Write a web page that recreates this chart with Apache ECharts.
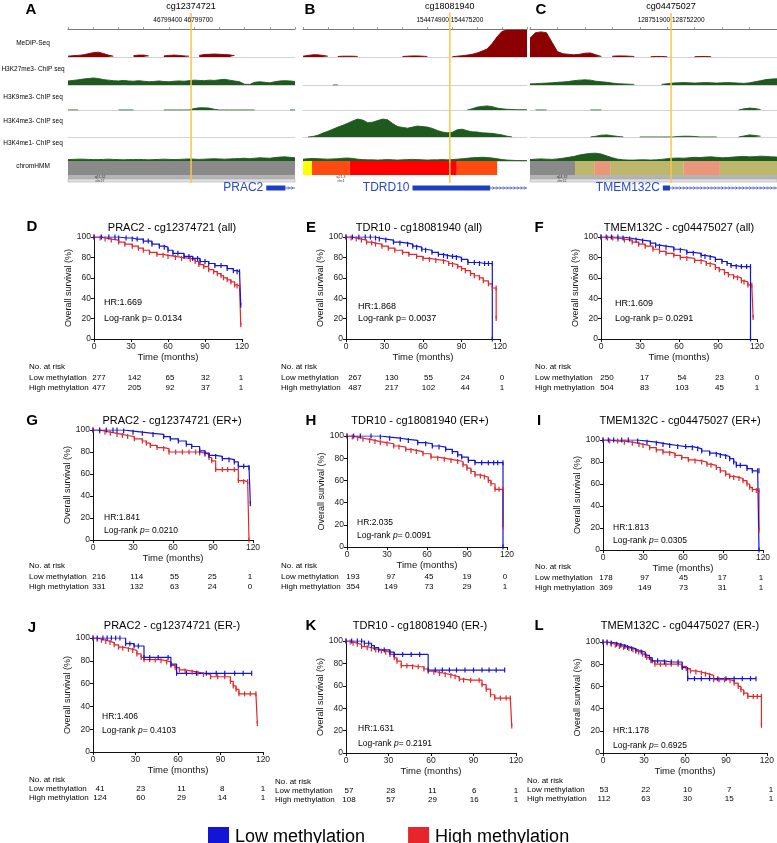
<!DOCTYPE html>
<html><head><meta charset="utf-8">
<script src="https://cdn.jsdelivr.net/npm/echarts@6/dist/echarts.min.js"></script>
<style>html,body{margin:0;padding:0;background:#fff}#c{width:777px;height:843px}</style>
</head><body><div id="c"></div>
<script>
// ================= DATA =================
const trackLabels = ['MeDIP-Seq','H3K27me3- ChIP seq','H3K9me3- ChIP seq','H3K4me3- ChIP seq','H3K4me1- ChIP seq','chromHMM'];
const panelLettersTop = ['A','B','C'];
const probeIds = ['cg12374721','cg18081940','cg04475027'];
const probeCoords = [['46799400','46799700'],['154474900','154475200'],['128751900','128752200']];
const probeBin = [24.4, 29.5, 25.7];
const cytoBands = [['q21.32','chr17'],['q21.3','chr1'],['q24.32','chr12']];

// signal tracks, 46 bins per panel (null = no coverage)
const medipA = [0.3,0.5,0.6,0.8,1.2,1.6,1.8,1.3,0.7,0.3,null,null,null,0.5,0.7,0.7,0.4,null,null,0.4,0.6,0.7,0.6,0.4,0.3,null,0.6,0.9,1.0,1.1,1.0,0.9,0.8,0.5,null,null,null,null,null,null,null,null,null,null,null,null];
const k27A = [1.5,1.7,1.9,2.2,2.4,2.6,2.4,2.0,1.8,1.6,1.5,1.7,1.5,1.4,1.6,1.4,1.2,1.3,1.5,1.3,1.2,1.4,1.5,1.4,1.6,1.8,1.7,1.6,1.8,1.7,1.9,2.1,1.8,1.5,1.2,0.3,0.2,1.0,1.2,1.0,0.8,1.2,1.5,1.6,1.5,1.3];
const k9A = [0,0,0,null,null,null,null,null,null,null,0,0,0,0,null,null,null,null,null,0,0,0,0,0,0,0.6,0.9,0.9,0.8,0.3,0,0,0,0,0,0,0,0,null,null,null,null,null,null,0,0];
const k4me3A = [];
const k4me1A = [0.6,0.7,0.8,0.8,0.7,0.6,0.6,0.7,0.8,0.7,0.6,0.5,0.6,0.6,0.7,0.6,0.5,0.6,0.7,0.8,0.7,0.6,0.7,0.8,0.9,0.8,0.7,0.8,0.9,1.0,0.9,0.8,0.9,1.0,1.1,1.2,1.0,1.2,1.4,1.3,1.2,1.5,1.7,1.8,1.6,1.4];

const medipB = [0.3,0.6,0.8,0.8,0.6,0.3,null,0.2,0.3,0.3,0.3,0.2,null,null,null,null,null,null,null,null,0.2,0.3,0.4,0.4,0.3,0.2,null,null,null,null,0.1,0.3,0.5,0.7,1.0,1.5,2.2,3.0,5.0,7.5,9.5,10,10,10,10,10];
const k27B = [null,null,null,null,null,null,0,0];
const k9B = [null,null,null,null,null,null,null,null,null,null,null,null,null,null,null,null,null,null,null,null,null,null,null,null,null,null,null,null,null,null,null,null,null,0,0.5,1.2,1.5,1.7,1.4,0.8,0.5,0.3,0.2,0.1,0.1,0.1];
const k4me3B = [null,0,0.2,0.7,1.5,2.2,3.0,3.8,4.5,5.3,6.2,6.9,6.5,5.5,5.7,6.3,6.9,6.6,5.2,4.0,3.7,3.4,3.8,4.2,4.0,3.8,3.3,2.5,1.9,1.6,1.8,2.8,3.0,2.4,2.0,1.9,1.6,1.5,1.4,1.1,0.8,0.3,0,null,null,null];
const k4me1B = [0.8,1.0,1.1,1.0,0.9,0.8,0.9,1.0,1.2,1.3,1.1,0.8,0.6,0.5,0.5,0.4,0.5,0.6,0.5,0.4,0.5,0.6,0.7,0.6,0.5,0.4,0.5,0.5,0.6,0.5,0.6,0.8,1.0,1.2,1.4,1.5,1.6,1.5,1.3,1.0,0.6,0.4,0.3,0.2,0.2,0.2];

const medipC = [7.0,9.0,9.3,9.0,5.5,2.0,1.2,1.0,0.8,1.0,1.4,1.5,0.8,0.2,null,0.3,0.4,0.4,0.3,0.2,null,null,0.1,0.2,0.2,0.1,null,null,null,null,0.1,0.2,0.2,0.1,null,null,null,null,null,null,null,null,null,null,null,null];
const k27C = [0.4,0.5,0.6,0.7,0.8,1.0,1.1,1.3,1.6,1.8,1.9,1.8,1.4,1.2,1.0,0.7,0.5,0.4,0.3,0.2,null,null,null,null,0.2,0.5,0.7,0.8,0.9,0.8,0.7,0.8,0.9,0.8,0.7,0.8,0.9,0.8,0.7,0.6,0.8,1.2,1.6,2.0,2.2,2.3];
const k9C = [null,0,0,0,null,null,null,null,null,null,null,0,0,0,null,null,null,null,null,null,null,null,null,null,null,null,null,null,null,null,null,null,null,null,null,null,null,null,0,0.5,0.8,0.6,0.2,null,null,null];
const k4me3C = [null,null,null,null,null,null,null,null,null,null,null,0,0.3,0.7,0.8,0.5,0.2,0,null,null,0,0,0,0,0,0,0,0.2,0.3,0.3,0.2,0,0,0,0,null,null,null,0,0.4,0.8,0.6,0.3,null,null,null];
const k4me1C = [0.6,0.8,0.9,0.8,0.7,0.9,1.2,1.6,2.0,2.6,3.0,3.3,3.4,3.0,2.2,1.4,0.8,0.5,0.4,0.4,0.5,0.5,0.4,0.5,0.7,1.0,1.2,1.3,1.2,1.4,1.6,1.5,1.7,1.8,1.6,1.4,1.5,1.7,1.9,2.0,1.8,1.9,2.1,2.0,1.8,1.7];

// chromHMM segments [startBin, endBin, state]
const chromA = [[0,45,'ReprPC']];
const chromB = [[0,1.8,'Enh'],[1.8,9.4,'TssAFlnk'],[9.4,30.9,'TssA'],[30.9,39,'TssAFlnk']];
const chromC = [[0,8.2,'ReprPC'],[8.2,11.7,'EnhBiv'],[11.7,14.6,'BivFlnk'],[14.6,28,'EnhBiv'],[28,34.6,'BivFlnk'],[34.6,45,'EnhBiv']];
// genes [name, txStart, cdsEnd, txEnd] in bins
const geneA = ['PRAC2',39.3,43.1,45];
const geneB = ['TDRD10',22,37.6,45];
const geneC = ['TMEM132C',24.2,25.5,45];

// Kaplan-Meier curves [months, survival %]
const D_low = [[0,100],[6,100],[12,100],[17,100],[20,99],[26,99],[31,98],[35,98],[40,96],[44,96],[47,93],[53,91],[57,90],[60,87],[64,84],[68,84],[73,81],[77,81],[80,79],[84,79],[86,76],[90,76],[93,74],[98,72],[103,72],[108,69],[113,67],[116,66],[118,66],[119,33]];
const D_high = [[0,100],[5,99],[9,98],[14,97],[20,95],[25,93],[31,91],[36,89],[40,87],[45,85],[51,83],[56,82],[60,81],[66,80],[71,79],[78,78],[82,76],[85,73],[89,71],[93,68],[97,66],[100,64],[103,62],[105,60],[108,58],[111,56],[114,53],[116,52],[118,52],[119,14]];
const E_low = [[0,100],[5,100],[10,100],[15,100],[19,100],[23,99],[26,98],[31,97],[37,95],[42,94],[48,93],[52,91],[55,90],[59,88],[62,87],[67,85],[72,83],[76,82],[79,81],[83,81],[86,80],[90,78],[95,75],[100,75],[104,74],[108,74],[111,74],[114,74],[114,0]];
const E_high = [[0,100],[4,99],[8,98],[12,97],[16,95],[20,94],[23,93],[28,91],[33,89],[38,87],[44,85],[49,83],[55,81],[60,79],[65,78],[70,77],[76,76],[80,74],[83,73],[87,71],[90,69],[93,67],[97,64],[100,62],[104,60],[107,57],[111,54],[114,50],[117,50],[117,20]];
const F_low = [[0,100],[4,100],[8,100],[13,100],[17,99],[22,98],[27,97],[32,96],[38,94],[42,92],[45,91],[50,90],[56,88],[61,87],[66,85],[71,84],[77,82],[80,81],[84,80],[88,78],[93,76],[97,74],[100,72],[104,71],[108,71],[112,71],[115,71],[115,0]];
const F_high = [[0,100],[5,99],[9,99],[13,98],[18,97],[24,95],[29,93],[34,91],[40,88],[45,86],[50,84],[56,82],[61,80],[66,79],[72,77],[77,76],[81,74],[84,73],[88,70],[91,68],[95,65],[98,63],[102,61],[105,60],[108,57],[110,56],[113,53],[116,53],[117,21]];
const G_low = [[0,100],[5,100],[10,100],[15,100],[18,100],[23,99],[30,98],[37,97],[45,96],[53,94],[58,92],[64,90],[70,87],[74,85],[80,81],[84,79],[87,77],[92,76],[97,74],[102,73],[106,71],[109,67],[113,67],[117,66],[118,33]];
const G_high = [[0,100],[5,99],[9,98],[13,97],[18,96],[22,95],[26,94],[31,92],[37,90],[40,88],[43,86],[48,84],[53,83],[57,80],[62,80],[67,80],[72,80],[77,80],[80,79],[84,78],[87,75],[89,72],[92,64],[97,64],[101,64],[106,64],[109,54],[113,53],[116,53],[117,0]];
const H_low = [[0,100],[5,100],[10,100],[18,100],[25,99],[32,98],[40,97],[46,96],[53,94],[59,93],[64,91],[69,90],[74,88],[79,86],[83,83],[86,81],[91,78],[96,76],[101,76],[106,76],[110,76],[113,76],[117,76],[117,0]];
const H_high = [[0,100],[4,99],[8,98],[12,97],[17,96],[21,95],[25,94],[30,93],[35,91],[39,90],[44,88],[48,87],[52,86],[57,84],[63,81],[68,80],[73,79],[78,78],[83,77],[87,74],[90,71],[93,68],[96,65],[100,64],[103,63],[106,60],[108,57],[111,52],[114,52],[117,52],[117,18]];
const I_low = [[0,100],[4,100],[8,100],[14,100],[19,100],[26,99],[33,98],[40,97],[45,96],[50,95],[56,94],[62,94],[67,93],[71,92],[74,90],[80,88],[85,87],[88,86],[92,85],[95,83],[98,80],[100,77],[103,77],[108,74],[112,72],[116,72],[117,72],[117,0]];
const I_high = [[0,100],[5,99],[11,99],[16,98],[22,97],[27,96],[30,95],[35,93],[40,91],[45,89],[50,88],[54,86],[59,84],[64,82],[69,81],[74,80],[78,78],[81,77],[85,75],[88,72],[92,69],[95,67],[98,66],[102,65],[105,63],[108,60],[110,57],[112,55],[115,54],[117,54],[117,18]];
const J_low = [[0,100],[3,100],[7,100],[10,100],[13,100],[16,100],[19,100],[23,95],[26,95],[29,93],[32,93],[36,83],[40,83],[46,83],[53,83],[55,77],[59,69],[66,69],[73,69],[80,69],[87,69],[93,69],[100,69],[106,69],[112,69]];
const J_high = [[0,100],[3,99],[6,98],[9,97],[12,96],[15,94],[18,92],[21,91],[25,90],[28,89],[31,86],[34,83],[36,81],[40,81],[44,81],[48,80],[52,79],[55,76],[58,74],[61,72],[65,71],[70,70],[74,69],[78,68],[83,66],[88,66],[93,66],[97,62],[99,58],[101,55],[103,51],[107,51],[111,51],[115,51],[116,25]];
const K_low = [[0,100],[4,100],[8,100],[11,100],[13,98],[16,98],[18,96],[20,94],[23,92],[27,92],[31,90],[34,88],[40,88],[46,88],[52,88],[58,74],[63,74],[68,74],[73,74],[78,74],[84,74],[90,74],[96,74],[101,74],[106,74],[112,74]];
const K_high = [[0,100],[3,99],[5,98],[8,97],[11,95],[15,94],[18,93],[21,92],[25,91],[28,90],[31,88],[34,85],[36,82],[39,78],[43,78],[47,77],[51,77],[55,75],[58,73],[62,72],[66,71],[70,70],[74,69],[77,68],[80,66],[83,65],[88,65],[94,65],[96,61],[99,57],[102,52],[105,49],[109,49],[113,49],[116,49],[117,24]];
const L_low = [[0,100],[3,100],[6,99],[10,98],[13,97],[16,96],[18,95],[21,94],[24,92],[28,91],[31,88],[34,86],[36,83],[40,83],[45,82],[50,82],[55,82],[58,77],[62,67],[67,67],[72,67],[78,67],[84,67],[90,67],[96,67],[102,67],[108,67],[112,67]];
const L_high = [[0,100],[3,99],[6,98],[9,97],[12,96],[15,95],[19,94],[22,93],[26,91],[29,89],[32,86],[35,83],[38,80],[42,80],[46,80],[50,80],[55,80],[58,78],[61,76],[64,74],[68,73],[72,72],[75,71],[78,70],[81,66],[85,66],[89,66],[93,65],[96,63],[99,60],[101,57],[103,54],[106,51],[110,51],[113,51],[116,51],[116,25]];

const kmTitles = ['PRAC2 - cg12374721 (all)','TDR10 - cg18081940 (all)','TMEM132C - cg04475027 (all)',
  'PRAC2 - cg12374721 (ER+)','TDR10 - cg18081940 (ER+)','TMEM132C - cg04475027 (ER+)',
  'PRAC2 - cg12374721 (ER-)','TDR10 - cg18081940 (ER-)','TMEM132C - cg04475027 (ER-)'];
const kmLetters = ['D','E','F','G','H','I','J','K','L'];
const kmHR = ['1.669','1.868','1.609','1.841','2.035','1.813','1.406','1.631','1.178'];
const kmP = ['0.0134','0.0037','0.0291','0.0210','0.0091','0.0305','0.4103','0.2191','0.6925'];
const timeTicks = [0,30,60,90,120];
const riskLow = [[277,142,65,32,1],[267,130,55,24,0],[250,17,54,23,0],[216,114,55,25,1],[193,97,45,19,0],[178,97,45,17,1],[41,23,11,8,1],[57,28,11,6,1],[53,22,10,7,1]];
const riskHigh = [[477,205,92,37,1],[487,217,102,44,1],[504,83,103,45,1],[331,132,63,24,0],[354,149,73,29,1],[369,149,73,31,1],[124,60,29,14,1],[108,57,29,16,1],[112,63,30,15,1]];
const kmLow = [D_low,E_low,F_low,G_low,H_low,I_low,J_low,K_low,L_low];
const kmHigh = [D_high,E_high,F_high,G_high,H_high,I_high,J_high,K_high,L_high];

// ================= STYLE / LAYOUT =================
const FONT = '"Liberation Sans", Arial, Helvetica, sans-serif';
const BLUE = '#1414d6', RED = '#e6262a';
const stateColor = {ReprPC:'#8a8a8a', Enh:'#ffff00', TssAFlnk:'#ff4a12', TssA:'#ff0000', EnhBiv:'#bdb76b', BivFlnk:'#e9967a'};
const panelBox = [[68,227],[303,224],[530,247]];
const letterTop = [[31,10],[310,10],[541,10]];
const coordOffset = [-8,0,0];
const trackRows = [[30,27],[58,27],[86,24],[111,26],[138,23]];
const trackColor = ['#8b0000','#1e5a1e','#1e5a1e','#1e5a1e','#1e5a1e'];
const labelY = [43,69,97,121,143,166];
const panelTracks = [[medipA,k27A,k9A,k4me3A,k4me1A],[medipB,k27B,k9B,k4me3B,k4me1B],[medipC,k27C,k9C,k4me3C,k4me1C]];
const panelChrom = [chromA,chromB,chromC];
const panelGene = [geneA,geneB,geneC];

// table columns: nx0..nx1 = pixel span of number columns
const kmLayout = [
 {lx:32,ly:227,x:94,y:237,w:148,h:102,tx:172,ty:228,hx:104,hy:303,py:319,rx:29,ry:367,dy:10.5,nx0:99,nx1:241,big:true},
 {lx:311,ly:228,x:346,y:237,w:154,h:102,tx:419,ty:228,hx:358,hy:307,py:319,rx:281,ry:367,dy:10.5,nx0:355,nx1:502,big:true},
 {lx:539,ly:228,x:601,y:237,w:156,h:102,tx:679,ty:228,hx:615,hy:304,py:319,rx:535,ry:367,dy:10.5,nx0:607,nx1:757,big:true},
 {lx:32,ly:421,x:93,y:430,w:160,h:110,tx:172,ty:421,hx:104,hy:518,py:531,rx:29,ry:566,dy:10.5,nx0:99,nx1:250},
 {lx:311,ly:421,x:347,y:436,w:160,h:111,tx:420,ty:421,hx:357,hy:523,py:536,rx:281,ry:566,dy:10.5,nx0:353,nx1:505},
 {lx:539,ly:421,x:603,y:440,w:160,h:110,tx:680,ty:421,hx:613,hy:528,py:541,rx:535,ry:567,dy:10.5,nx0:606,nx1:761},
 {lx:32,ly:628,x:93,y:638,w:170,h:114,tx:172,ty:626,hx:102,hy:717,py:731,rx:29,ry:780,dy:9,nx0:100,nx1:263},
 {lx:311,ly:626,x:346,y:641,w:170,h:112,tx:420,ty:626,hx:358,hy:729,py:744,rx:275,ry:782,dy:9,nx0:349,nx1:516},
 {lx:539,ly:626,x:603,y:642,w:170,h:111,tx:680,ty:626,hx:613,hy:731,py:746,rx:527,ry:781,dy:9,nx0:604,nx1:771}
];

// ================= BUILD =================
const grid = [], xAxis = [], yAxis = [], series = [], graphic = [];
function T(text, x, y, size, extra) {
  return {type:'text', x:x, y:y, silent:true, z:50,
    style:Object.assign({text:text, fill:'#000', fontSize:size, fontFamily:FONT, align:'center', verticalAlign:'middle'}, extra||{})};
}
function addGrid(g, xa, ya) {
  grid.push(Object.assign({containLabel:false}, g));
  const i = grid.length - 1;
  xAxis.push(Object.assign({gridIndex:i}, xa));
  yAxis.push(Object.assign({gridIndex:i}, ya));
  return i;
}
const hiddenBins = {type:'value', min:0, max:45, show:false};

// --- genome browser panels ---
trackLabels.forEach((t,k)=> graphic.push(T(t, 33, labelY[k], 6.5)));
panelBox.forEach((pb, p) => {
  const [px, pw] = pb;
  const cx = px + probeBin[p] * pw / 45;
  graphic.push(T(panelLettersTop[p], letterTop[p][0], letterTop[p][1], 15, {fontWeight:'bold'}));
  graphic.push(T(probeIds[p], cx, 7, 9));
  graphic.push(T(probeCoords[p][0] + ' ' + probeCoords[p][1], cx + coordOffset[p], 20, 6.5));
  // ruler
  const ri = addGrid({left:px, width:pw, top:28, height:1},
    {type:'value', min:0, max:45, interval:5, position:'top',
     axisLine:{show:true, lineStyle:{color:'#555', width:0.8}}, axisTick:{show:true, length:2, lineStyle:{color:'#555', width:0.6}},
     axisLabel:{show:false}, splitLine:{show:false}},
    {type:'value', show:false, min:0, max:1});
  series.push({type:'line', xAxisIndex:ri, yAxisIndex:ri, data:[], silent:true});
  // tracks
  panelTracks[p].forEach((vals, t) => {
    const gi = addGrid({left:px, width:pw, top:trackRows[t][0], height:trackRows[t][1]},
      {type:'value', min:0, max:45, axisLine:{show:true, lineStyle:{color:'#d2d2d2', width:1}}, axisTick:{show:false}, axisLabel:{show:false}, splitLine:{show:false}},
      {type:'value', min:0, max:10, show:false});
    series.push({type:'line', xAxisIndex:gi, yAxisIndex:gi, silent:true, symbol:'none', connectNulls:false, z:3,
      data: vals.map((v,i)=> [i, v === null ? '-' : v]),
      lineStyle:{color:trackColor[t], width:0.9}, areaStyle:{color:trackColor[t], opacity:1}});
  });
  // chromHMM
  const ci = addGrid({left:px, width:pw, top:161, height:14}, hiddenBins, {type:'value', min:0, max:1, show:false});
  series.push({type:'custom', xAxisIndex:ci, yAxisIndex:ci, silent:true, z:3,
    data: panelChrom[p].map(s => [s[0], s[1], s[2]]),
    dimensions:['s','e','state'],
    renderItem:(params, api) => {
      const a = api.coord([api.value(0), 1]); const b = api.coord([api.value(1), 0]);
      const st = panelChrom[p][params.dataIndex][2];
      return {type:'rect', shape:{x:a[0], y:a[1], width:b[0]-a[0], height:b[1]-a[1]}, style:{fill:stateColor[st]}};
    }});
  // cytoband strip
  if (p !== 1) {
    graphic.push({type:'rect', silent:true, z:2, shape:{x:px, y:175, width:pw, height:4}, style:{fill:'#b4b4b4'}});
    graphic.push({type:'rect', silent:true, z:2, shape:{x:px, y:179, width:pw, height:3}, style:{fill:'#e2e2e2', stroke:'#a0a0a0', lineWidth:0.5}});
  }
  graphic.push(T(cytoBands[p][0], px + (p===1?38:32), 177, 3.5, {fill:'#333'}));
  graphic.push(T(cytoBands[p][1], px + (p===1?38:32), 181, 3.5, {fill:'#333'}));
  // gene
  const gene = panelGene[p];
  const gg = addGrid({left:px, width:pw, top:183, height:10}, hiddenBins, {type:'value', min:0, max:1, show:false});
  series.push({type:'custom', xAxisIndex:gg, yAxisIndex:gg, silent:true, z:3,
    data:[[gene[1], gene[2], gene[3]]],
    renderItem:(params, api) => {
      const y = api.coord([0, 0.5])[1];
      const s = api.coord([api.value(0), 0.5])[0];
      const c = api.coord([api.value(1), 0.5])[0];
      const e = api.coord([api.value(2), 0.5])[0];
      const ch = [
        {type:'text', style:{text:gene[0], x:s-3, y:y, align:'right', verticalAlign:'middle', fill:'#2748cc', fontSize:12, fontFamily:FONT}},
        {type:'line', shape:{x1:c, y1:y, x2:e, y2:y}, style:{stroke:'#1d3fc6', lineWidth:0.8}},
        {type:'rect', shape:{x:s, y:y-2.5, width:c-s, height:5}, style:{fill:'#1d3fc6'}}
      ];
      for (let x = c + 4; x < e - 1; x += 3.5) {
        ch.push({type:'polyline', shape:{points:[[x-1.5,y-1.6],[x,y],[x-1.5,y+1.6]]}, style:{stroke:'#1d3fc6', lineWidth:0.6, fill:null}});
      }
      return {type:'group', children:ch};
    }});
  // CpG marker
  const oi = addGrid({left:px, width:pw, top:13, height:170}, hiddenBins, {type:'value', min:0, max:1, show:false});
  series.push({type:'line', xAxisIndex:oi, yAxisIndex:oi, silent:true, symbol:'none', z:10,
    data:[[probeBin[p],0],[probeBin[p],1]], lineStyle:{color:'#f6c74a', width:1.5}});
});

// --- Kaplan-Meier panels ---
kmLayout.forEach((L, k) => {
  const gi = addGrid({left:L.x, top:L.y, width:L.w, height:L.h},
    {type:'value', min:0, max:120, interval:30, name:'Time (months)', nameLocation:'middle', nameGap:12,
     nameTextStyle:{fontSize:9.5, fontFamily:FONT, color:'#111'},
     axisLine:{show:true, lineStyle:{color:'#111', width:1}}, axisTick:{show:true, length:3, lineStyle:{color:'#111'}},
     axisLabel:{fontSize:8.5, fontFamily:FONT, color:'#222', margin:3}, splitLine:{show:false}},
    {type:'value', min:0, max:100, interval:20, name:'Overall survival (%)', nameLocation:'middle', nameGap:20,
     nameTextStyle:{fontSize:9, fontFamily:FONT, color:'#111'},
     axisLine:{show:true, lineStyle:{color:'#111', width:1}}, axisTick:{show:true, length:3, lineStyle:{color:'#111'}},
     axisLabel:{fontSize:8.5, fontFamily:FONT, color:'#222', margin:3}, splitLine:{show:false}});
  [[kmHigh[k], 'High methylation', RED], [kmLow[k], 'Low methylation', BLUE]].forEach(([d, nm, col]) => {
    series.push({type:'line', name:nm, xAxisIndex:gi, yAxisIndex:gi, step:'end', data:d, silent:true,
      symbol:'rect', symbolSize:[1.2,5], showSymbol:true, showAllSymbol:true,
      itemStyle:{color:col}, lineStyle:{color:col, width:1.2}, z:5});
  });
  graphic.push(T(kmLetters[k], L.lx, L.ly, 15, {fontWeight:'bold'}));
  graphic.push(T(kmTitles[k], L.tx, L.ty, 11));
  const fs = L.big ? 9 : 8.5;
  graphic.push(T('HR:' + kmHR[k], L.hx, L.hy, fs, {align:'left'}));
  graphic.push(T('{a|Log-rank }{i|p}{a|= ' + kmP[k] + '}', L.hx, L.py, fs, {align:'left',
    rich:{a:{fontSize:fs, fontFamily:FONT, fill:'#000'}, i:{fontSize:fs, fontFamily:FONT, fill:'#000', fontStyle: L.big ? 'normal' : 'italic'}}}));
  // risk table
  graphic.push(T('No. at risk', L.rx, L.ry, 8, {align:'left'}));
  graphic.push(T('Low methylation', L.rx, L.ry + L.dy, 8, {align:'left'}));
  graphic.push(T('High methylation', L.rx, L.ry + 2*L.dy, 8, {align:'left'}));
  timeTicks.forEach((t, j) => {
    const x = L.nx0 + (L.nx1 - L.nx0) * t / 120;
    graphic.push(T(String(riskLow[k][j]), x, L.ry + L.dy, 8));
    graphic.push(T(String(riskHigh[k][j]), x, L.ry + 2*L.dy, 8));
  });
});

const chart = echarts.init(document.getElementById('c'), null, {renderer:'canvas', width:777, height:843});
chart.setOption({
  animation:false,
  backgroundColor:'#fff',
  grid:grid, xAxis:xAxis, yAxis:yAxis, series:series, graphic:graphic,
  legend:{show:true, selectedMode:false, left:203, top:822, itemWidth:21, itemHeight:21, itemGap:43, icon:'rect',
    data:[{name:'Low methylation', itemStyle:{color:BLUE}}, {name:'High methylation', itemStyle:{color:RED}}],
    textStyle:{fontSize:18, fontFamily:FONT, color:'#000', padding:[0,0,0,1]}}
});
</script></body></html>
